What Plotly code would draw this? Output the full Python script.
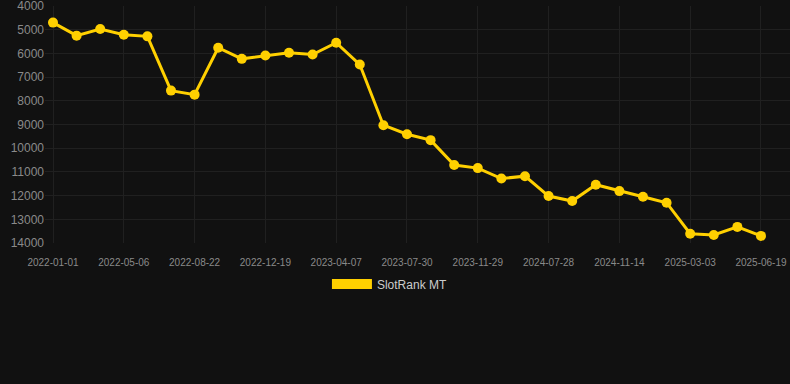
import plotly.graph_objects as go

dates = [
    "2022-01-01", "2022-02-12", "2022-03-25", "2022-05-06", "2022-06-10", "2022-07-16",
    "2022-08-22", "2022-09-30", "2022-11-09", "2022-12-19", "2023-01-25", "2023-03-02",
    "2023-04-07", "2023-05-14", "2023-06-21", "2023-07-30", "2023-09-09", "2023-10-19",
    "2023-11-29", "2024-02-20", "2024-05-10", "2024-07-28", "2024-09-02", "2024-10-08",
    "2024-11-14", "2024-12-20", "2025-01-25", "2025-03-03", "2025-04-08", "2025-05-14",
    "2025-06-19",
]
ranks = [
    4700, 5250, 4970, 5210, 5280, 7570, 7740, 5760, 6230, 6090, 5970, 6050,
    5550, 6470, 9030, 9410, 9660, 10710, 10840, 11280, 11180, 12020, 12230, 11540,
    11810, 12050, 12300, 13610, 13660, 13320, 13700,
]
tick_labels = dates[::3]
y_ticks = list(range(4000, 14001, 1000))
y_tick_text = [str(v) for v in y_ticks]
series_name = "SlotRank MT"

gold = "#FFD000"
bg = "#111111"
grid = "#202020"

fig = go.Figure()
fig.add_trace(go.Scatter(
    x=dates, y=ranks, mode="lines+markers",
    line=dict(color=gold, width=3),
    marker=dict(color=gold, size=10),
    showlegend=False, name=series_name,
))
fig.add_trace(go.Scatter(
    x=[None], y=[None], mode="lines",
    line=dict(color=gold, width=11),
    name=series_name, showlegend=True,
))

fig.update_layout(
    width=790, height=384,
    paper_bgcolor=bg, plot_bgcolor=bg,
    margin=dict(l=45, r=0, t=6, b=141),
    font=dict(family="Liberation Sans, Arial, sans-serif", color="#8a8a8a"),
    xaxis=dict(
        type="category", categoryorder="array", categoryarray=dates,
        range=[-0.339, 31.23],
        tickmode="array", tickvals=tick_labels, ticktext=tick_labels,
        tickfont=dict(size=10, color="#8a8a8a"),
        showgrid=True, gridcolor=grid, gridwidth=1,
        zeroline=False, showline=False,
        ticks="outside", ticklen=10, tickcolor="rgba(0,0,0,0)",
        ticklabeloverflow="allow",
    ),
    yaxis=dict(
        range=[14000, 4000], tickmode="array", tickvals=y_ticks, ticktext=y_tick_text,
        tickfont=dict(size=12, color="#8a8a8a"),
        showgrid=True, gridcolor=grid, gridwidth=1,
        zeroline=False, showline=False, ticks="",
        ticklabeloverflow="allow",
    ),
    legend=dict(
        orientation="h", x=0.463, y=-0.173, xanchor="center", yanchor="middle",
        font=dict(size=12, color="#cccccc"), bgcolor="rgba(0,0,0,0)",
        itemwidth=40,
    ),
)

fig.write_html(
    "out.html",
    config={"displayModeBar": False},
    post_script="document.body.style.margin='0';document.body.style.background='#111111';",
)
